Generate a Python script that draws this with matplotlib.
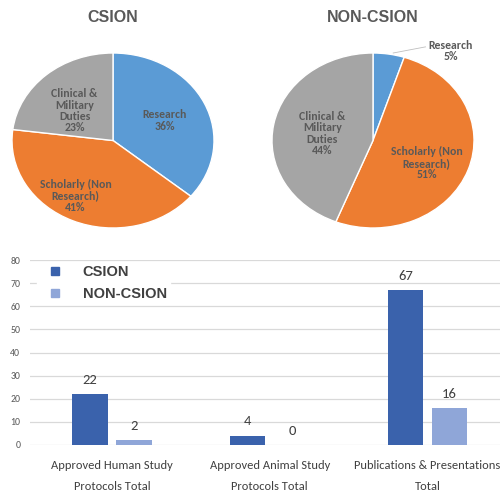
import numpy as np
import matplotlib
matplotlib.use("Agg")
import matplotlib.pyplot as plt
from matplotlib.lines import Line2D

# ---- data ----
pie_titles = ["CSION", "NON-CSION"]
pie_labels = ["Research", "Scholarly (Non\nResearch)", "Clinical &\nMilitary\nDuties"]
csion_share = [36, 41, 23]
non_csion_share = [5, 51, 44]
pie_colors = ["#5B9BD5", "#ED7D31", "#A5A5A5"]

categories = ["Approved Human Study\nProtocols Total",
              "Approved Animal Study\nProtocols Total",
              "Publications & Presentations\nTotal"]
csion_counts = [22, 4, 67]
non_csion_counts = [2, 0, 16]
series_names = ["CSION", "NON-CSION"]
bar_colors = ["#3A62AC", "#8FA6D8"]

TXT = "#404040"
CAL = ["Carlito", "DejaVu Sans"]
ARIAL = ["Liberation Sans", "DejaVu Sans"]

fig = plt.figure(figsize=(5, 4.95), dpi=100)


def draw_pie(rect, values, title, label_pos):
    ax = fig.add_axes(rect)
    wedges, _ = ax.pie(values, colors=pie_colors, startangle=90, counterclock=False,
                       wedgeprops=dict(edgecolor="white", linewidth=1))
    ax.set_aspect("auto")
    ax.set_xlim(-1, 1)
    ax.set_ylim(-1, 1)
    for i, v in enumerate(values):
        x, y = label_pos[i]
        ax.text(x, y, f"{pie_labels[i]}\n{v}%", ha="center", va="center", fontsize=8.5,
                fontweight="bold", color="#595959", linespacing=1.05, family=CAL,
                clip_on=False)
    fig.text(rect[0] + rect[2] / 2, 1 - 18 / 495, title, ha="center", va="center",
             fontsize=11.5, fontweight="bold", color="#595959", family=ARIAL)
    return ax


ax1 = draw_pie([12 / 500, 1 - 228 / 495, 202 / 500, 175 / 495], csion_share, pie_titles[0],
               [(0.51, 0.23), (-0.37, -0.63), (-0.38, 0.34)])
ax2 = draw_pie([272 / 500, 1 - 228 / 495, 202 / 500, 175 / 495], non_csion_share, pie_titles[1],
               [(0.77, 1.02), (0.53, -0.26), (-0.5, 0.08)])
ax2.plot([0.2, 0.52], [1.0, 1.07], color="#BFBFBF", lw=0.6, clip_on=False)

# ---- bar chart ----
axb = fig.add_axes([30 / 500, 1 - 445 / 495, 470 / 500, 185 / 495])
x = np.arange(len(categories))
w = 0.225
gap = 0.028
b1 = axb.bar(x - w / 2 - gap, csion_counts, w, color=bar_colors[0], label=series_names[0])
b2 = axb.bar(x + w / 2 + gap, non_csion_counts, w, color=bar_colors[1], label=series_names[1])
for bars in (b1, b2):
    axb.bar_label(bars, padding=6, fontsize=10.5, color=TXT, family=CAL)

axb.set_ylim(0, 80)
axb.set_xlim(-0.52, 2.46)
axb.set_yticks(np.arange(0, 81, 10))
axb.yaxis.grid(True, color="#D9D9D9", lw=0.9)
axb.set_axisbelow(True)
for s in axb.spines.values():
    s.set_visible(False)
axb.tick_params(axis="y", length=0, labelsize=7, labelcolor="#595959", pad=7)
for t in axb.get_yticklabels():
    t.set_family(CAL)
axb.tick_params(axis="x", length=0, pad=11)
axb.set_xticks(x)
axb.set_xticklabels(categories, fontsize=9.0, color=TXT, family=CAL, linespacing=2.05)

handles = [Line2D([], [], marker="s", ls="none", color=c, markersize=6) for c in bar_colors]
leg = axb.legend(handles, series_names, loc="upper left", bbox_to_anchor=(0.0, 1.03),
                 frameon=True, fancybox=False, framealpha=1, edgecolor="white",
                 prop=dict(weight="bold", size=10.5, family=ARIAL),
                 handletextpad=0.9, labelspacing=0.55, borderpad=0.2)
for t in leg.get_texts():
    t.set_color("#404040")

fig.savefig("out.png", dpi=100)
